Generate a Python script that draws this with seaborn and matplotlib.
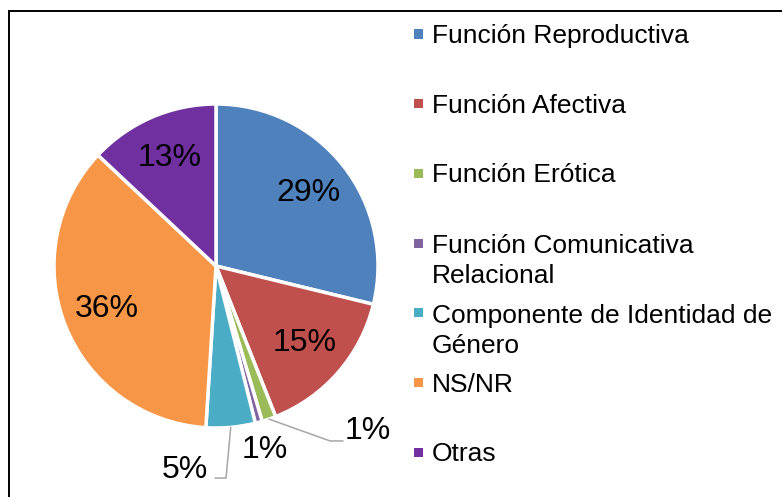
import numpy as np
import matplotlib.pyplot as plt
import matplotlib.patches as mpatches
import seaborn as sns

# === Data ===
categories = [
    "Función Reproductiva",
    "Función Afectiva",
    "Función Erótica",
    "Función Comunicativa\nRelacional",
    "Componente de Identidad de\nGénero",
    "NS/NR",
    "Otras",
]
shares = [28.8, 15.2, 1.4, 0.7, 4.9, 36.0, 13.0]
pct_labels = ["29%", "15%", "1%", "1%", "5%", "36%", "13%"]
slice_colors = ["#4F81BD", "#C0504D", "#9BBB59", "#8064A2", "#4BACC6", "#F79646", "#7030A0"]

# === Style ===
sns.set_style("white")
plt.rcParams["font.family"] = ["Liberation Sans", "DejaVu Sans"]
plt.rcParams["text.color"] = "black"

W, H = 782, 497
fig = plt.figure(figsize=(W / 100, H / 100), dpi=100)

# chart frame (cut off at right / bottom like the source)
fig.patches.append(mpatches.Rectangle(
    (9 / W, -0.1), 1.2, 1 - 11 / H + 0.1, transform=fig.transFigure,
    fill=False, edgecolor="black", linewidth=1.4))

# === Pie ===
cx, cy, r = 216, 266, 162
ax = fig.add_axes([(cx - r) / W, (H - cy - r) / H, 2 * r / W, 2 * r / H])
palette = sns.color_palette(slice_colors)
wedges, _ = ax.pie(shares, colors=palette, startangle=90, counterclock=False,
                   wedgeprops=dict(edgecolor="white", linewidth=2.5))
ax.set_xlim(-1, 1)
ax.set_ylim(-1, 1)

# labels: inside for big slices, outside (with leaders) for the small ones
outside = {2: (0.796, -1.018, "left"), 3: (0.302, -1.136, "center"), 4: (-0.049, -1.259, "right")}
leaders = {2: [(0.704, -1.080), (0.784, -1.080)], 4: [(0.062, -1.309), (-0.006, -1.309)]}

for i, w in enumerate(wedges):
    mid = np.deg2rad((w.theta1 + w.theta2) / 2)
    if i in outside:
        x, y, ha = outside[i]
        ax.text(x, y, pct_labels[i], ha=ha, va="center", fontsize=23, clip_on=False)
        if i in leaders:
            pts = [(np.cos(mid), np.sin(mid))] + leaders[i]
            xs, ys = zip(*pts)
            ax.plot(xs, ys, color="#A6A6A6", linewidth=1.1, clip_on=False)
    else:
        ax.text(0.725 * np.cos(mid), 0.725 * np.sin(mid), pct_labels[i],
                ha="center", va="center", fontsize=23)

# === Legend (manual, markers aligned with first line) ===
legend_top = 34
legend_step = 69.7
line_gap = 31
for i, (name, col) in enumerate(zip(categories, slice_colors)):
    yc = legend_top + i * legend_step
    extra = name.count("\n") * line_gap
    fig.patches.append(mpatches.Rectangle(
        (414 / W, 1 - (yc + 4.5) / H), 9 / W, 9 / H, transform=fig.transFigure,
        facecolor=col, edgecolor="none"))
    fig.text(432 / W, 1 - (yc + 9 + extra) / H, name, fontsize=19, ha="left",
             va="baseline", linespacing=1.3)

fig.savefig("out.png", dpi=100)
